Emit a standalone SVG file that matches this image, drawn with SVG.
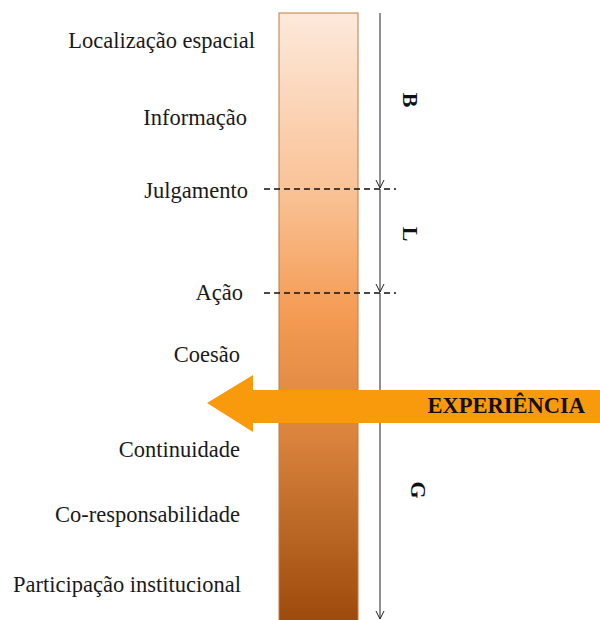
<svg xmlns="http://www.w3.org/2000/svg" width="600" height="620" viewBox="0 0 600 620">
<defs>
<linearGradient id="bar" x1="0" y1="0" x2="0" y2="1">
<stop offset="0" stop-color="#fde9dc"/>
<stop offset="0.3" stop-color="#f9c193"/>
<stop offset="0.5" stop-color="#f49a52"/>
<stop offset="0.7" stop-color="#d8823c"/>
<stop offset="1" stop-color="#9c4a0c"/>
</linearGradient>
<marker id="v" viewBox="0 0 10 10" refX="9" refY="5" markerWidth="10" markerHeight="10" markerUnits="userSpaceOnUse" orient="auto">
<path d="M1,1 L9,5 L1,9" fill="none" stroke="#222" stroke-width="1"/>
</marker>
<style>
.lbl{font-family:"Liberation Serif","Times New Roman",serif;font-size:22.5px;fill:#1a1a1a;text-anchor:end}
.let{font-family:"Liberation Serif","Times New Roman",serif;font-size:22px;font-weight:bold;fill:#111;text-anchor:middle;dominant-baseline:central}
.dash{stroke:#111;stroke-width:1.5;stroke-dasharray:6 4}
.vl{stroke:#222;stroke-width:1;fill:none}
</style>
</defs>
<g id="bar-node">
<rect x="279" y="13" width="79" height="610" fill="url(#bar)" stroke="#c27a3e" stroke-width="1"/>
</g>
<g id="connectors">
<line class="vl" x1="380" y1="13" x2="380" y2="188" marker-end="url(#v)"/>
<line class="vl" x1="380" y1="189" x2="380" y2="292" marker-end="url(#v)"/>
<line class="vl" x1="380" y1="293" x2="380" y2="619" marker-end="url(#v)"/>
<line class="dash" x1="264" y1="189" x2="396" y2="189"/>
<line class="dash" x1="264" y1="293" x2="396" y2="293"/>
</g>
<g id="experiencia">
<polygon points="207,403 253,375 253,390 600,390 600,423 253,423 253,432" fill="#f89a0c"/>
<text x="585" y="413" style="font-family:'Liberation Serif','Times New Roman',serif;font-size:22.5px;font-weight:bold;fill:#111;text-anchor:end">EXPERIÊNCIA</text>
</g>
<g id="labels">
<text class="lbl" x="255" y="48">Localização espacial</text>
<text class="lbl" x="247" y="125">Informação</text>
<text class="lbl" x="248" y="198">Julgamento</text>
<text class="lbl" x="243" y="300">Ação</text>
<text class="lbl" x="240" y="362">Coesão</text>
<text class="lbl" x="240" y="457">Continuidade</text>
<text class="lbl" x="240" y="522">Co-responsabilidade</text>
<text class="lbl" x="241" y="592">Participação institucional</text>
</g>
<g id="letters">
<text class="let" transform="translate(410,100) rotate(90)">B</text>
<text class="let" transform="translate(410,234) rotate(90)">L</text>
<text class="let" transform="translate(418,490) rotate(90)">G</text>
</g>
</svg>
